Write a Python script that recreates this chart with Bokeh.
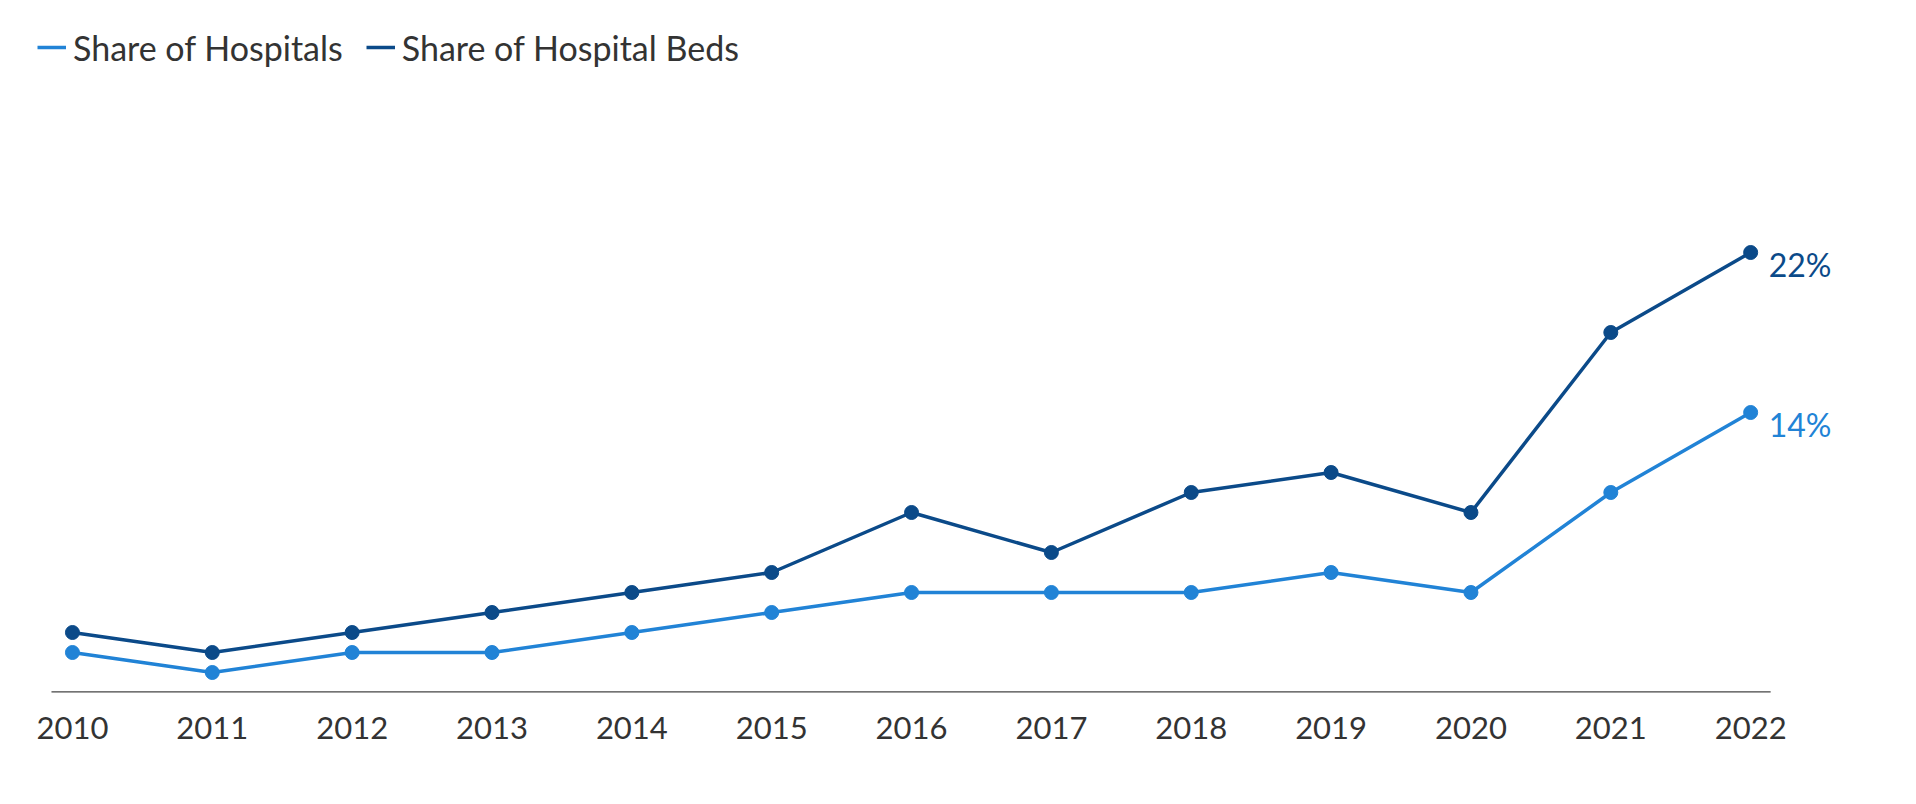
from bokeh.plotting import figure
from bokeh.models import Range1d, Legend, LegendItem, ColumnDataSource, FixedTicker
from bokeh.core.properties import value
from bokeh.embed import file_html
from bokeh.resources import INLINE

years = [2010, 2011, 2012, 2013, 2014, 2015, 2016, 2017, 2018, 2019, 2020, 2021, 2022]
share_hospitals = [2, 1, 2, 2, 3, 4, 5, 5, 5, 6, 5, 10, 14]
share_beds = [3, 2, 3, 4, 5, 6, 9, 7, 10, 11, 9, 18, 22]
series_names = ["Share of Hospitals", "Share of Hospital Beds"]

FONT = "Lato"
LIGHT = "#2183D6"
DARK = "#0B4A89"
TEXT = "#333333"
AXIS = "#444444"

p = figure(width=1900, height=788, output_backend="svg", toolbar_location=None,
           x_range=Range1d(2009.70, 2023.0), y_range=Range1d(0, 33.6),
           min_border_left=30, min_border_right=10, min_border_top=20, min_border_bottom=96)
p.outline_line_color = None
p.grid.visible = False
p.yaxis.visible = False
p.background_fill_color = "white"
p.border_fill_color = "white"

ax = p.xaxis[0]
ax.ticker = FixedTicker(ticks=years)
ax.major_tick_line_color = None
ax.minor_tick_line_color = None
ax.axis_line_color = None
ax.major_label_text_font = FONT
ax.major_label_text_font_size = "31px"
ax.major_label_text_color = TEXT
ax.major_label_standoff = 18

# baseline (x axis line) spanning slightly beyond the first and last year
p.segment(x0=[years[0] - 0.15], y0=[0], x1=[years[-1] + 0.143], y1=[0],
          line_color=AXIS, line_width=2.5)

src = ColumnDataSource(dict(x=years, h=share_hospitals, b=share_beds))

l1 = p.line("x", "h", source=src, line_color=LIGHT, line_width=3.5)
p.scatter("x", "h", source=src, size=14, fill_color=LIGHT, line_color=LIGHT)
l2 = p.line("x", "b", source=src, line_color=DARK, line_width=3.5)
p.scatter("x", "b", source=src, size=14, fill_color=DARK, line_color=DARK)

end_src = ColumnDataSource(dict(
    x=[years[-1], years[-1]],
    y=[share_hospitals[-1], share_beds[-1]],
    t=[f"{share_hospitals[-1]}%", f"{share_beds[-1]}%"],
    c=[LIGHT, DARK]))
p.text("x", "y", text="t", source=end_src, text_color="c", text_font=value(FONT),
       text_font_size="32px", text_align="left", text_baseline="middle",
       x_offset=18, y_offset=12)

legend = Legend(items=[LegendItem(label=series_names[0], renderers=[l1]),
                       LegendItem(label=series_names[1], renderers=[l2])],
                orientation="horizontal", location=(7, 623),
                padding=0, margin=0, spacing=23, label_standoff=7,
                glyph_width=29, glyph_height=44, label_height=44,
                label_text_font=FONT, label_text_font_size="34px",
                label_text_color=TEXT, border_line_color=None,
                background_fill_alpha=0)
p.add_layout(legend, "center")

open("out.html", "w").write(file_html(p, INLINE))
